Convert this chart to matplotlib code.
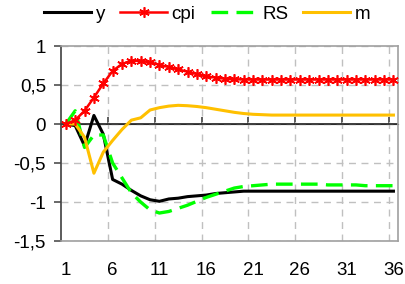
import matplotlib
matplotlib.use("Agg")
import matplotlib.pyplot as plt
import numpy as np

# --- 資料 ---
periods = list(range(1, 37))
y = [0, -0.02, -0.28, 0.11, -0.13, -0.71, -0.77, -0.85, -0.92, -0.97,
     -0.99, -0.96, -0.95, -0.93, -0.92, -0.91, -0.89, -0.88, -0.87, -0.86,
     -0.86, -0.86, -0.86, -0.86, -0.86, -0.86, -0.86, -0.86, -0.86, -0.86,
     -0.86, -0.86, -0.86, -0.86, -0.86, -0.86]
cpi = [0, 0.05, 0.17, 0.34, 0.52, 0.68, 0.77, 0.81, 0.81, 0.79,
       0.76, 0.73, 0.70, 0.67, 0.64, 0.61, 0.595, 0.58, 0.575, 0.57,
       0.57, 0.57, 0.57, 0.57, 0.57, 0.57, 0.57, 0.57, 0.57, 0.57,
       0.57, 0.57, 0.57, 0.57, 0.57, 0.57]
rs = [0, 0.17, -0.30, -0.14, -0.14, -0.50, -0.69, -0.88, -1.00, -1.10,
      -1.14, -1.12, -1.08, -1.04, -0.99, -0.94, -0.90, -0.86, -0.82, -0.80,
      -0.79, -0.78, -0.77, -0.77, -0.77, -0.77, -0.77, -0.77, -0.78, -0.78,
      -0.78, -0.78, -0.79, -0.79, -0.79, -0.79]
m = [0, 0.0, -0.17, -0.63, -0.36, -0.21, -0.07, 0.05, 0.08, 0.18,
     0.21, 0.23, 0.24, 0.235, 0.225, 0.21, 0.19, 0.17, 0.15, 0.135,
     0.125, 0.12, 0.115, 0.115, 0.115, 0.115, 0.115, 0.115, 0.115, 0.115,
     0.115, 0.115, 0.115, 0.115, 0.115, 0.115]
xtick_labels = [1, 6, 11, 16, 21, 26, 31, 36]
yticks = [1, 0.5, 0, -0.5, -1, -1.5]

plt.rcParams['font.family'] = ['Liberation Sans', 'DejaVu Sans']

fig = plt.figure(figsize=(4.05, 2.84), dpi=100)
ax = fig.add_axes([0.151, 0.151, 0.832, 0.687])
ax.set_axisbelow(True)

# 零軸
ax.axhline(0, color='#303030', lw=1.3, zorder=2)

ax.plot(periods, y, color='black', lw=2.2, label='y', zorder=3)
ax.plot(periods, cpi, color='#FF0000', lw=1.8, marker=(6, 2, 0), markersize=7.5,
        markeredgewidth=1.2, label='cpi', zorder=4)
ax.plot(periods, rs, color='#00FF00', lw=2.4, dashes=(5, 2.5), label='RS', zorder=3)
ax.plot(periods, m, color='#FFC000', lw=2.2, label='m', zorder=3)

ax.set_xlim(0.5, 36.5)
ax.set_ylim(-1.5, 1)

# 刻度與格線
ax.set_xticks(xtick_labels)
ax.set_xticklabels([str(v) for v in xtick_labels], fontsize=13.5)
ax.tick_params(axis='x', which='major', length=0, pad=15)
bounds = [v - 0.5 for v in xtick_labels[1:]]
ax.set_xticks(bounds, minor=True)
ax.tick_params(axis='x', which='minor', length=0)
ax.grid(True, axis='x', which='minor', color='#c0c0c0', linestyle=(0, (5, 4)), lw=1)
ax.grid(False, axis='x', which='major')

ax.set_yticks(yticks)
ax.set_yticklabels([str(v).replace('.', ',') if v != 0 else '0' for v in yticks], fontsize=13.5)
ax.tick_params(axis='y', length=5, width=1.1, color='#404040', direction='out', pad=6)
ax.grid(True, axis='y', color='#c0c0c0', linestyle=(0, (5, 4)), lw=1)

for side in ['top', 'right', 'bottom']:
    ax.spines[side].set_color('#a0a0a0')
    ax.spines[side].set_linewidth(1.2)
ax.spines['left'].set_color('#404040')
ax.spines['left'].set_linewidth(1.2)

# 零軸刻度
sec = ax.secondary_xaxis(1.5 / 2.5)
sec.set_xticks(bounds)
sec.set_xticklabels([])
sec.tick_params(axis='x', direction='out', length=5, width=1.1, color='#303030')
sec.spines['bottom'].set_visible(False)

fig.legend(loc='center', bbox_to_anchor=(0.512, 0.95), ncol=4, frameon=False,
           fontsize=13.5, handlelength=2.5, handletextpad=0.25, columnspacing=0.8)

fig.savefig("out.png", dpi=100)
